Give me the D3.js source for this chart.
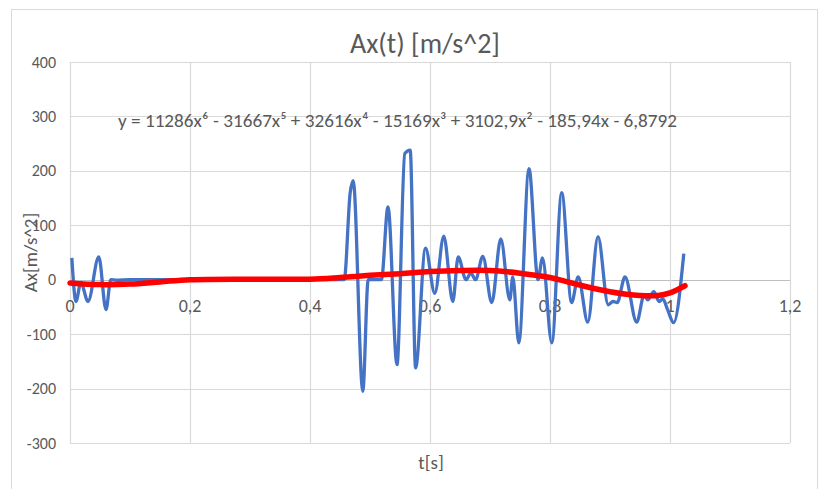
<!DOCTYPE html>
<html><head><meta charset="utf-8">
<script src="https://cdn.jsdelivr.net/npm/d3@7"></script>
<style>body{margin:0;background:#fff}</style>
</head><body>
<svg id="c" width="827" height="489"></svg>
<script>
const titleText = "Ax(t) [m/s^2]";
const xTitle = "t[s]";
const yTitle = "Ax[m/s^2]";
const equation = "y = 11286x\u2076 - 31667x\u2075 + 32616x\u2074 - 15169x\u00b3 + 3102,9x\u00b2 - 185,94x - 6,8792";
const xTicks = [0, 0.2, 0.4, 0.6, 0.8, 1, 1.2];
const xTickLabels = ["0", "0,2", "0,4", "0,6", "0,8", "1", "1,2"];
const yTicks = [-300, -200, -100, 0, 100, 200, 300, 400];

// measured signal (t, Ax)
const sigT = [0.003,0.010,0.018,0.030,0.048,0.060,0.068,0.077,0.10,0.15,0.20,0.25,0.30,0.35,0.40,0.457,
  0.467,0.472,0.488,0.497,0.519,0.530,0.545,0.558,0.567,0.576,0.5925,0.608,0.623,0.638,0.647,0.660,0.668,0.676,
  0.688,0.703,0.718,0.733,0.738,0.748,0.765,0.780,0.7875,0.803,0.8195,0.836,0.847,0.863,0.880,0.897,0.905,0.912,
  0.925,0.9445,0.957,0.963,0.973,0.982,0.988,0.996,1.006,1.023];
const sigV = [40,-40,-5,-40,42,-55,0,-1,0,0,0,0,0,0,0,0,
  160,182,-205,0,0,134,-156,232,238,-162,58,-25,80,-40,42,0,12,0,
  43,-42,75,-37,5,-116,204,0,40,-116,160,-42,5,-78,79,-46,-40,-42,
  5,-78,-28,-37,-22,-40,-35,-55,-79,48];

// polynomial trend line as seen on the chart (t, Ax)
const trendT = [0,0.05,0.1,0.15,0.2,0.3,0.4,0.45,0.5,0.55,0.6,0.65,0.7,0.75,0.8,0.85,0.9,0.95,0.98,1.0,1.025];
const trendV = [-6,-9,-8,-4,0,1,1,4,8,11,15,17,17,12,4,-10,-22,-29,-29,-24,-11];

const svg = d3.select("#c");
const font = "Carlito, Calibri, 'Liberation Sans Narrow', 'Liberation Sans', sans-serif";
const grey = "#595959";

// chart frame
svg.append("rect").attr("x",11.5).attr("y",9.5).attr("width",806).attr("height",490)
  .attr("fill","#fff").attr("stroke","#d9d9d9");

const x = d3.scaleLinear().domain([0,1.2]).range([70,790]);
const y = d3.scaleLinear().domain([-300,400]).range([443,62]);

// gridlines
svg.append("g").selectAll("line").data(yTicks).join("line")
  .attr("x1",x(0)).attr("x2",x(1.2)).attr("y1",d=>Math.round(y(d))+0.5).attr("y2",d=>Math.round(y(d))+0.5)
  .attr("stroke",d=>d===0?"#bfbfbf":"#d9d9d9").attr("stroke-width",1.2);
svg.append("g").selectAll("line").data(xTicks).join("line")
  .attr("y1",y(400)).attr("y2",y(-300)).attr("x1",d=>Math.round(x(d))+0.5).attr("x2",d=>Math.round(x(d))+0.5)
  .attr("stroke","#d9d9d9").attr("stroke-width",1.2);

// y tick labels
svg.append("g").selectAll("text").data(yTicks).join("text")
  .attr("x",56).attr("y",d=>y(d)).attr("dy","0.35em").attr("text-anchor","end")
  .attr("font-family",font).attr("font-size",16).attr("fill",grey).text(d=>d);

// x tick labels
svg.append("g").selectAll("text").data(xTicks).join("text")
  .attr("x",d=>x(d)).attr("y",y(0)+32).attr("text-anchor","middle")
  .attr("font-family",font).attr("font-size",18).attr("fill",grey).text((d,i)=>xTickLabels[i]);

// title
svg.append("text").attr("x",425).attr("y",53).attr("text-anchor","middle")
  .attr("font-family",font).attr("font-size",28).attr("fill",grey).text(titleText);

// axis titles
svg.append("text").attr("x",431).attr("y",469).attr("text-anchor","middle")
  .attr("font-family",font).attr("font-size",19).attr("fill",grey).text(xTitle);
svg.append("text").attr("transform",`translate(37,${(y(400)+y(-300))/2}) rotate(-90)`).attr("text-anchor","middle")
  .attr("font-family",font).attr("font-size",19).attr("fill",grey).text(yTitle);

// signal line
const sig = sigT.map((t,i)=>[t,sigV[i]]);
svg.append("path").datum(sig)
  .attr("d",d3.line().x(d=>x(d[0])).y(d=>y(d[1])).curve(d3.curveMonotoneX))
  .attr("fill","none").attr("stroke","#4472c4").attr("stroke-width",3.3).attr("stroke-linejoin","round");

// trend line
const tr = trendT.map((t,i)=>[t,trendV[i]]);
svg.append("path").datum(tr)
  .attr("d",d3.line().x(d=>x(d[0])).y(d=>y(d[1])).curve(d3.curveCatmullRom.alpha(0.5)))
  .attr("fill","none").attr("stroke","#ff0000").attr("stroke-width",5.5).attr("stroke-linecap","round");

// equation
svg.append("text").attr("x",118).attr("y",127)
  .attr("font-family",font).attr("font-size",19).attr("fill",grey)
  .attr("textLength",559).attr("lengthAdjust","spacingAndGlyphs").text(equation);
</script>
</body></html>
